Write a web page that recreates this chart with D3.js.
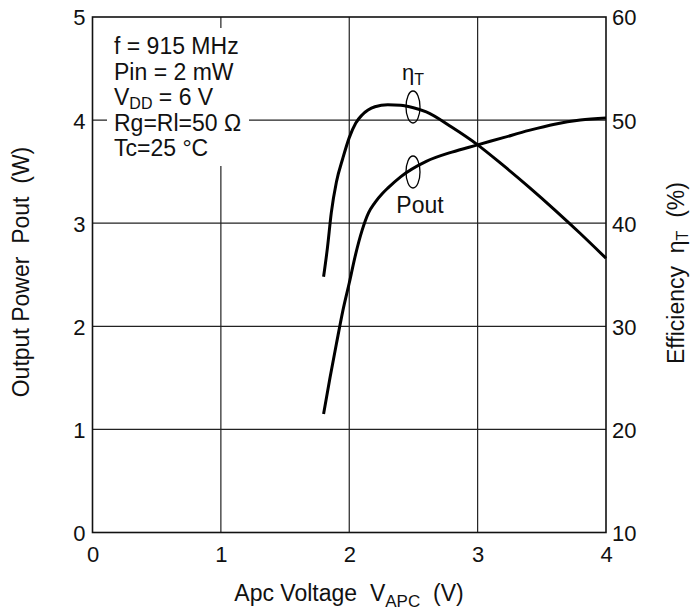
<!DOCTYPE html>
<html><head><meta charset="utf-8">
<script src="https://cdn.jsdelivr.net/npm/d3@7"></script>
<style>body{margin:0;background:#fff}svg{display:block}text{font-family:"Liberation Sans",Arial,sans-serif;fill:#111}</style>
</head><body><div id="c"></div>
<script>
const xTicks=[0,1,2,3,4];
const yLeftTicks=[0,1,2,3,4,5];
const yRightTicks=[10,20,30,40,50,60];
const poutV=[1.8,1.85,1.9,1.95,2.0,2.05,2.1,2.15,2.2,2.26,2.3,2.4,2.6,2.8,3.0,3.2,3.4,3.6,3.8,4.0];
const poutW=[1.15,1.5,1.83,2.15,2.42,2.7,2.93,3.1,3.2,3.29,3.34,3.45,3.6,3.69,3.76,3.83,3.9,3.96,4.0,4.02];
const effV=[1.8,1.83,1.86,1.9,1.95,2.0,2.05,2.1,2.2,2.3,2.4,2.5,2.6,2.8,3.0,3.2,3.4,3.6,3.8,4.0];
const effPct=[34.8,37.6,41.0,44.0,46.3,48.3,49.7,50.5,51.3,51.5,51.45,51.2,50.8,49.3,47.6,45.6,43.5,41.3,39.0,36.6];
const infoLines=["f = 915 MHz","Pin = 2 mW","VDD","Rg=Rl=50 Ω","Tc=25 °C"];

const W=695,H=612,L=92.5,R=606,T=17,B=532.5;
const svg=d3.select("#c").append("svg").attr("width",W).attr("height",H);
const x=d3.scaleLinear().domain([0,4]).range([L,R]);
const yL=d3.scaleLinear().domain([0,5]).range([B,T]);
const yR=d3.scaleLinear().domain([10,60]).range([B,T]);

// grid
const g=svg.append("g").attr("stroke","#222").attr("stroke-width",1.2);
xTicks.slice(1,-1).forEach(v=>g.append("line").attr("x1",x(v)).attr("x2",x(v)).attr("y1",T).attr("y2",B));
yLeftTicks.slice(1,-1).forEach(v=>g.append("line").attr("x1",L).attr("x2",R).attr("y1",yL(v)).attr("y2",yL(v)));

// white box behind info text
svg.append("rect").attr("x",107).attr("y",28).attr("width",142).attr("height",138).attr("fill","#fff");

// frame
svg.append("rect").attr("x",L).attr("y",T).attr("width",R-L).attr("height",B-T).attr("fill","none").attr("stroke","#111").attr("stroke-width",1.6);

// axes labels
const fs=22, tfs=23, sfs=16;
const fmt=d3.format("d");
const axB=d3.axisBottom(x).tickValues(xTicks).tickFormat(fmt).tickSize(0).tickPadding(14);
const gb=svg.append("g").attr("transform",`translate(0,${B})`).call(axB);
const axLf=d3.axisLeft(yL).tickValues(yLeftTicks).tickFormat(fmt).tickSize(0).tickPadding(7);
const gl=svg.append("g").attr("transform",`translate(${L},0)`).call(axLf);
const axRt=d3.axisRight(yR).tickValues(yRightTicks).tickFormat(fmt).tickSize(0).tickPadding(6);
const gr=svg.append("g").attr("transform",`translate(${R},0)`).call(axRt);
[gb,gl,gr].forEach(a=>{a.select(".domain").remove();a.selectAll("text").attr("font-size",fs).attr("fill","#111").attr("font-family","Liberation Sans, Arial, sans-serif");});
gl.selectAll("text").attr("dy","0.36em");
gr.selectAll("text").attr("dy","0.36em");

// curves
const line=d3.line().curve(d3.curveMonotoneX);
svg.append("path").attr("d",line(poutV.map((v,i)=>[x(v),yL(poutW[i])]))).attr("fill","none").attr("stroke","#000").attr("stroke-width",3);
svg.append("path").attr("d",line(effV.map((v,i)=>[x(v),yR(effPct[i])]))).attr("fill","none").attr("stroke","#000").attr("stroke-width",3);

// info text
const ib=54, ls=25.6;
infoLines.forEach((s,i)=>{
  const t=svg.append("text").attr("x",114).attr("y",ib+i*ls).attr("font-size",tfs);
  if(s==="VDD"){t.append("tspan").text("V");t.append("tspan").attr("font-size",sfs).attr("dy",4).text("DD");t.append("tspan").attr("dy",-4).text(" = 6 V");}
  else t.text(s);
});

// loops and labels
svg.append("ellipse").attr("cx",413).attr("cy",107).attr("rx",7).attr("ry",16).attr("fill","none").attr("stroke","#000").attr("stroke-width",1.3);
svg.append("ellipse").attr("cx",413).attr("cy",172).attr("rx",7).attr("ry",16).attr("fill","none").attr("stroke","#000").attr("stroke-width",1.3);
const eta=svg.append("text").attr("x",402).attr("y",80).attr("font-size",fs);
eta.append("tspan").text("η");eta.append("tspan").attr("font-size",sfs).attr("dy",5).text("T");
svg.append("text").attr("x",420).attr("y",213).attr("text-anchor","middle").attr("font-size",tfs).text("Pout");

// axis titles
const xt=svg.append("text").attr("x",349).attr("y",601).attr("text-anchor","middle").attr("font-size",tfs);
xt.append("tspan").text("Apc Voltage\u00a0\u00a0V");xt.append("tspan").attr("font-size",sfs+1).attr("dy",6).text("APC");xt.append("tspan").attr("dy",-6).text("\u00a0\u00a0(V)");
svg.append("text").attr("transform","translate(28.5,272) rotate(-90)").attr("text-anchor","middle").attr("font-size",tfs).text("Output Power\u00a0\u00a0Pout\u00a0\u00a0(W)");
const rt=svg.append("text").attr("transform","translate(684,273) rotate(-90)").attr("text-anchor","middle").attr("font-size",tfs);
rt.append("tspan").text("Efficiency\u00a0\u00a0η");rt.append("tspan").attr("font-size",sfs).attr("dy",4).text("T");rt.append("tspan").attr("dy",-4).text("\u00a0\u00a0(%)");
</script></body></html>
